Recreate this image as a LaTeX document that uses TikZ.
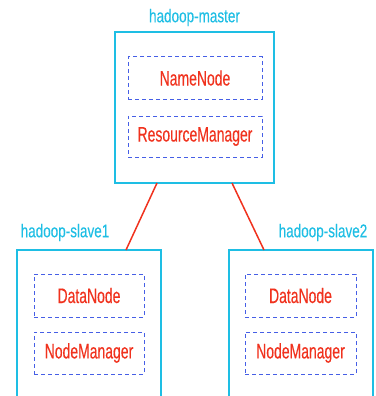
\documentclass[tikz,border=0pt]{standalone}
\usepackage{fontspec}
\setmainfont{Liberation Sans}
\newfontfamily\hostfont{Liberation Sans}[FakeStretch=0.73,FakeBold=0.2]
\newfontfamily\svcfont{Liberation Sans}[FakeStretch=0.665,FakeBold=0.25]
\definecolor{hostcyan}{RGB}{30,190,228}
\definecolor{svcred}{RGB}{240,50,30}
\definecolor{svcblue}{RGB}{70,95,230}
\tikzset{
  host/.style={draw=hostcyan, line width=2pt, rectangle},
  hostlabel/.style={text=hostcyan, font=\hostfont\fontsize{18.5}{22}\selectfont, inner sep=0pt},
  svc/.style={draw=svcblue, line width=1pt, dash pattern=on 4pt off 3pt,
              text=svcred, font=\svcfont\fontsize{21}{24}\selectfont},
  link/.style={draw=svcred, line width=1.5pt}
}
\begin{document}
\begin{tikzpicture}[x=1pt,y=-1pt]
\useasboundingbox (0,0) rectangle (375,396);
\clip (0,0) rectangle (375,396);
% master host
\draw[host] (115,32) rectangle (274,183);
\coordinate (mA) at (157,183);
\coordinate (mB) at (232,183);
\node[hostlabel] (mlabel) at (194.5,17.5) {hadoop-master};
\node[svc, minimum width=134pt, minimum height=42pt] (nn) at (195,78) {NameNode};
\node[svc, minimum width=134pt, minimum height=41pt] (rm) at (195,136.5) {ResourceManager};
% slave 1
\draw[host] (17,250) rectangle (161,420);
\coordinate (s1) at (126,250);
\node[hostlabel] (s1label) at (65,232.5) {hadoop-slave1};
\node[svc, minimum width=110pt, minimum height=43pt] (dn1) at (89,295.5) {DataNode};
\node[svc, minimum width=110pt, minimum height=42pt] (nm1) at (89,353) {NodeManager};
% slave 2
\draw[host] (229,250) rectangle (373,420);
\coordinate (s2) at (264,250);
\node[hostlabel] (s2label) at (323,232.5) {hadoop-slave2};
\node[svc, minimum width=111pt, minimum height=43pt] (dn2) at (300.5,295.5) {DataNode};
\node[svc, minimum width=111pt, minimum height=42pt] (nm2) at (300.5,353) {NodeManager};
% links
\draw[link] (mA) -- (s1);
\draw[link] (mB) -- (s2);
\end{tikzpicture}
\end{document}
